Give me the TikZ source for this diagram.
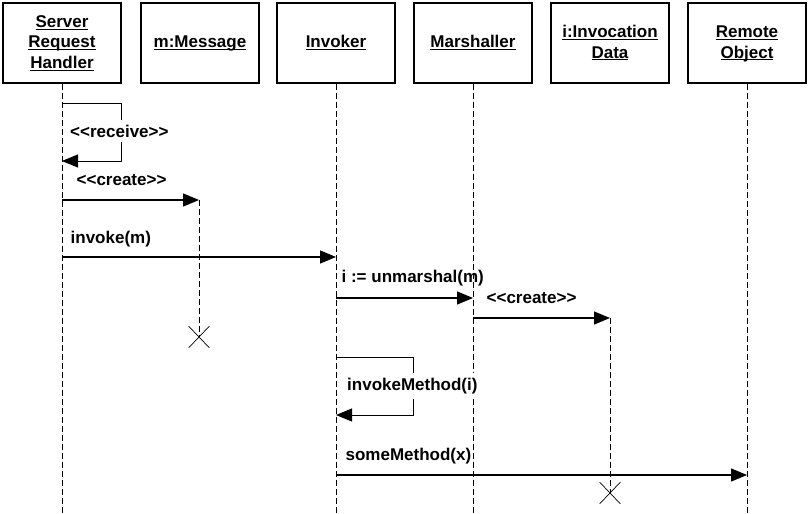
\documentclass[tikz,border=0pt]{standalone}
\usepackage{fontspec}
\setmainfont{Liberation Sans}
\usetikzlibrary{arrows.meta,shapes.misc}
\tikzset{
  obj/.style      = {draw, line width=1.3pt, minimum width=118pt,
                     minimum height=80pt, align=center,
                     font=\fontsize{17}{20.5}\selectfont\bfseries},
  lifeline/.style = {dash pattern=on 6pt off 3pt, line width=0.9pt},
  msg/.style      = {->, line width=1.3pt},
  self/.style     = {->, line width=1pt},
  lbl/.style      = {font=\fontsize{17}{20}\selectfont\bfseries,
                     anchor=west, inner sep=2pt},
  destroy/.style  = {cross out, draw, line width=0.7pt, inner sep=0pt,
                     minimum width=20pt, minimum height=21pt}
}
\newcommand{\hd}[1]{\underline{\smash{#1}}\vphantom{A}}
\newcommand{\stereo}[1]{<\kern0pt<#1>\kern0pt>}

\begin{document}
\begin{tikzpicture}[x=1pt, y=-1pt, >={Triangle[length=16pt,width=13pt]}]
\useasboundingbox (0,0) rectangle (812,514);
% objects
\node[obj] (srh)   at (62,43)  {\hd{Server}\\\hd{Request}\\\hd{Handler}};
\node[obj] (msg)   at (200,43) {\hd{m:Message}};
\node[obj] (inv)   at (336,43) {\hd{Invoker}};
\node[obj] (mar)   at (473,43) {\hd{Marshaller}};
\node[obj] (idata) at (610,43) {\hd{i:Invocation}\\\hd{Data}};
\node[obj] (robj)  at (747,43) {\hd{Remote}\\\hd{Object}};
% message rows
\coordinate (bot) at (0,514);
\coordinate (t1)  at (0,103);
\coordinate (t1b) at (0,161);
\coordinate (t2)  at (0,200);
\coordinate (t3)  at (0,257);
\coordinate (t4)  at (0,298);
\coordinate (t5)  at (0,318);
\coordinate (t6)  at (0,357);
\coordinate (t6b) at (0,415);
\coordinate (t7)  at (0,475);
\coordinate (x1)  at (0,337);
\coordinate (x2)  at (0,493);
\node[destroy] (xmsg) at ([xshift=-1pt]msg |- x1) {};
\node[destroy] (xdat) at (idata |- x2) {};
% lifelines
\foreach \o in {srh,inv,mar,robj}
  \draw[lifeline] (\o) -- (\o |- bot);
\draw[lifeline] (xmsg |- t2) -- (xmsg.center);
\draw[lifeline] (idata |- t5) -- (xdat.center);
% messages
\draw[self] (srh |- t1) -- ++(59,0) |- (srh |- t1b);
\node[lbl, fill=white, inner ysep=5pt] (lrecv) at (68,131) {\stereo{receive}};
\draw[msg] (srh |- t2) -- node[lbl, pos=0, xshift=12pt, yshift=20pt] {\stereo{create}} (xmsg |- t2);
\draw[msg] (srh |- t3) -- node[lbl, pos=0, xshift=6pt, yshift=18pt] {invoke(m)} (inv |- t3);
\draw[msg] (inv |- t4) -- node[lbl, pos=0, xshift=3pt, yshift=20pt] {i := unmarshal(m)} (mar |- t4);
\draw[msg] (mar |- t5) -- node[lbl, pos=0, xshift=11pt, yshift=20pt] {\stereo{create}} (idata |- t5);
\draw[self] (inv |- t6) -- ++(77,0) |- (inv |- t6b);
\node[lbl, fill=white, inner ysep=5pt] (linvm) at (345,386) {invokeMethod(i)};
\draw[msg] (inv |- t7) -- node[lbl, pos=0, xshift=7pt, yshift=19pt] {someMethod(x)} (robj |- t7);
\end{tikzpicture}
\end{document}
